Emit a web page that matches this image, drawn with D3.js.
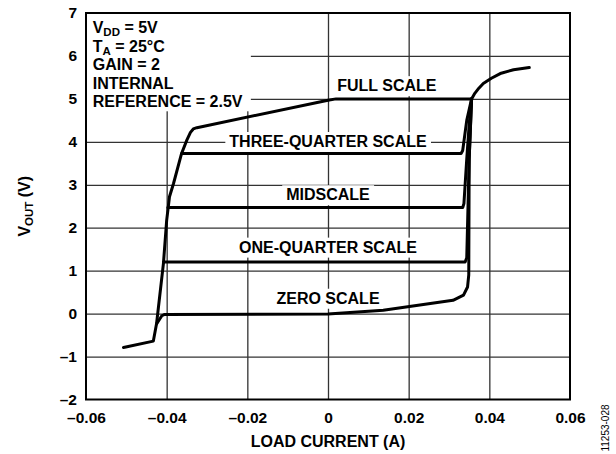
<!DOCTYPE html>
<html>
<head>
<meta charset="utf-8">
<script src="https://cdn.jsdelivr.net/npm/d3@7"></script>
<style>
  body { margin: 0; background: #fff; }
  svg text { font-family: "Liberation Sans", Arial, sans-serif; font-weight: bold; fill: #000; }
</style>
</head>
<body>
<svg width="616" height="454"></svg>
<script>
// axis ticks
var xTicks = [-0.06, -0.04, -0.02, 0, 0.02, 0.04, 0.06];
var xTickLabels = ["–0.06", "–0.04", "–0.02", "0", "0.02", "0.04", "0.06"];
var yTicks = [-2, -1, 0, 1, 2, 3, 4, 5, 6, 7];
var yTickLabels = ["–2", "–1", "0", "1", "2", "3", "4", "5", "6", "7"];

// curves: [load current (A), vout (V)]
var fullScale = [[-0.0507, -0.79], [-0.0433, -0.64], [-0.0425, -0.23], [-0.0408, 1.17], [-0.0400, 2.17],
  [-0.0393, 2.72], [-0.0383, 3.03], [-0.0363, 3.73], [-0.0350, 4.04], [-0.0341, 4.22], [-0.0334, 4.30],
  [-0.0325, 4.33], [0, 4.97], [0.002, 5.0], [0.0356, 5.0], [0.0364, 5.13], [0.0374, 5.25], [0.0385, 5.36],
  [0.0405, 5.48], [0.0427, 5.59], [0.0460, 5.68], [0.0499, 5.73]];
var threeQuarterScale = [[-0.0363, 3.73], [0.0330, 3.73], [0.0334, 3.80], [0.0344, 4.5], [0.0356, 5.0]];
var midScale = [[-0.0397, 2.47], [0.0334, 2.47], [0.0337, 2.56], [0.0344, 3.6], [0.0350, 4.4], [0.0356, 5.0]];
var oneQuarterScale = [[-0.0408, 1.20], [0.0340, 1.20], [0.0344, 1.30], [0.0350, 3.6], [0.0356, 5.0]];
var zeroScale = [[-0.0425, -0.24], [-0.0412, -0.05], [-0.0405, -0.02], [0, -0.01], [0.0137, 0.08],
  [0.0310, 0.31], [0.0336, 0.43], [0.0346, 0.62], [0.0349, 0.9], [0.0350, 3.6], [0.0356, 5.0]];

var curveNames = ["FULL SCALE", "THREE-QUARTER SCALE", "MIDSCALE", "ONE-QUARTER SCALE", "ZERO SCALE"];

var svg = d3.select("svg"),
    margin = {top: 13, right: 46, bottom: 54.5, left: 86},
    width = +svg.attr("width") - margin.left - margin.right,
    height = +svg.attr("height") - margin.top - margin.bottom,
    g = svg.append("g").attr("transform", "translate(" + margin.left + "," + margin.top + ")");

var x = d3.scaleLinear().domain([-0.06, 0.06]).range([0, width]);
var y = d3.scaleLinear().domain([-2, 7]).range([height, 0]);

// grid
var grid = g.append("g").attr("class", "grid");
grid.append("g")
    .attr("transform", "translate(0," + height + ")")
    .call(d3.axisBottom(x).tickValues(xTicks.slice(1, -1)).tickSize(-height).tickFormat(""));
grid.append("g")
    .call(d3.axisLeft(y).tickValues(yTicks.slice(1, -1)).tickSize(-width).tickFormat(""));
grid.selectAll(".domain").remove();
grid.selectAll("line").attr("stroke", "#333").attr("stroke-width", 1.3);

// tick labels
var xAxis = g.append("g")
    .attr("transform", "translate(0," + height + ")")
    .call(d3.axisBottom(x).tickValues(xTicks).tickSize(0).tickPadding(12)
      .tickFormat(function(d, i) { return xTickLabels[i]; }));
var yAxis = g.append("g")
    .call(d3.axisLeft(y).tickValues(yTicks).tickSize(0).tickPadding(9)
      .tickFormat(function(d, i) { return yTickLabels[i]; }));
[xAxis, yAxis].forEach(function(a) {
  a.select(".domain").remove();
  a.selectAll("text").style("font-size", "15.5px").attr("fill", "#000");
});

// white boxes under the labels (hide the grid)
var boxLayer = g.append("g");
var curveLayer = g.append("g");
var labelLayer = g.append("g");

// condition block
var notes = labelLayer.append("g");
function noteLine(row) {
  return notes.append("text").attr("x", 6.7).attr("y", 20.3 + row * 18.5).style("font-size", "16px");
}
var t = noteLine(0); t.append("tspan").text("V");
t.append("tspan").attr("dy", 3).style("font-size", "11.5px").text("DD");
t.append("tspan").attr("dy", -3).text(" = 5V");
t = noteLine(1); t.append("tspan").text("T");
t.append("tspan").attr("dy", 3).style("font-size", "11.5px").text("A");
t.append("tspan").attr("dy", -3).text(" = 25°C");
noteLine(2).text("GAIN = 2");
noteLine(3).text("INTERNAL");
noteLine(4).text("REFERENCE = 2.5V");
var nb = notes.node().getBBox();
boxLayer.append("rect").attr("x", 0).attr("y", 0)
    .attr("width", nb.x + nb.width + 8).attr("height", nb.y + nb.height + 1)
    .attr("fill", "#fff");

// curve labels
var labelPos = [[0.0146, 5.18], [0, 3.88], [0, 2.64], [0, 1.42], [0, 0.23]];
curveNames.forEach(function(name, i) {
  var tx = labelLayer.append("text")
      .attr("x", x(labelPos[i][0]))
      .attr("y", y(labelPos[i][1]))
      .attr("text-anchor", "middle")
      .style("font-size", "16px")
      .text(name);
  var b = tx.node().getBBox();
  boxLayer.append("rect")
      .attr("x", b.x - 4).attr("y", b.y - 1)
      .attr("width", b.width + 8).attr("height", b.height + 3)
      .attr("fill", "#fff");
});

// curves
var line = d3.line()
    .x(function(d) { return x(d[0]); })
    .y(function(d) { return y(d[1]); });

[zeroScale, oneQuarterScale, midScale, threeQuarterScale, fullScale].forEach(function(s) {
  curveLayer.append("path")
      .datum(s)
      .attr("fill", "none")
      .attr("stroke", "#000")
      .attr("stroke-width", 3)
      .attr("stroke-linejoin", "round")
      .attr("stroke-linecap", "round")
      .attr("d", line);
});

// frame
g.append("rect")
    .attr("width", width).attr("height", height)
    .attr("fill", "none").attr("stroke", "#000").attr("stroke-width", 2);

// axis titles
svg.append("text")
    .attr("x", margin.left + width / 2)
    .attr("y", 447)
    .attr("text-anchor", "middle")
    .style("font-size", "16px")
    .text("LOAD CURRENT (A)");

var yt = svg.append("text")
    .attr("transform", "translate(30," + (margin.top + height / 2) + ") rotate(-90)")
    .attr("text-anchor", "middle")
    .style("font-size", "16px");
yt.append("tspan").text("V");
yt.append("tspan").attr("dy", 3).style("font-size", "11.5px").text("OUT");
yt.append("tspan").attr("dy", -3).text(" (V)");

// figure code
svg.append("text")
    .attr("transform", "translate(609,428) rotate(-90)")
    .attr("text-anchor", "middle")
    .style("font-size", "10px")
    .style("font-weight", "normal")
    .text("11253-028");
</script>
</body>
</html>
